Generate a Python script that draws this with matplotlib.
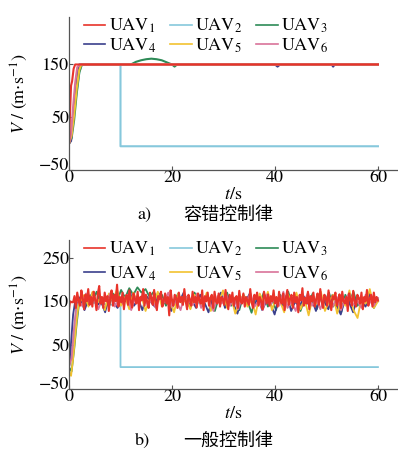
import numpy as np
import matplotlib
matplotlib.use('Agg')
import matplotlib.pyplot as plt
import matplotlib.transforms as mtransforms

plt.rcParams['font.family'] = ['STIXGeneral', 'Noto Sans CJK SC']
plt.rcParams['mathtext.fontset'] = 'stix'

# series labels / colours
labels = ['UAV$_1$', 'UAV$_2$', 'UAV$_3$', 'UAV$_4$', 'UAV$_5$', 'UAV$_6$']
colors = ['#e8332a', '#86c8dc', '#2e8b57', '#3b3f8c', '#f2c230', '#d9739a']

# a) fault tolerant control law
a_t = {
    0: [0, 0.2, 0.4, 0.6, 0.9, 1.2, 60],
    1: [0, 0.5, 1.0, 1.5, 2.0, 2.5, 10, 10, 60],
    2: [0, 0.5, 1.0, 1.5, 2.0, 2.5, 12, 13, 14, 15, 16, 17, 18, 19, 20, 20.5, 21, 60],
    3: [0, 0.4, 0.8, 1.2, 1.6, 2.0, 40, 40.5, 41, 51, 51.3, 51.6, 60],
    4: [0, 0.5, 1.0, 1.5, 2.0, 2.4, 60],
    5: [0, 0.4, 0.8, 1.2, 1.6, 2.2, 60],
}
a_v = {
    0: [0, 60, 110, 118, 142, 150, 150],
    1: [0, 20, 60, 100, 135, 150, 150, -5, -5],
    2: [0, 10, 45, 95, 135, 150, 150, 155, 158, 160, 161, 160, 158, 154, 150, 146, 150, 150],
    3: [0, 5, 45, 100, 135, 150, 150, 146, 150, 150, 146, 150, 150],
    4: [0, 15, 55, 105, 140, 150, 150],
    5: [0, 20, 70, 115, 145, 150, 150],
}

# b) general control law: start-up part
b_t0 = {
    0: [0, 0.2, 0.5],
    1: [0, 0.5, 1.0, 1.5, 2.0, 10, 10, 60],
    2: [0, 0.5, 1.0, 1.5, 2.0],
    3: [0, 0.3, 0.8, 1.2],
    4: [0, 0.4, 0.8, 1.2, 1.6, 2.0],
    5: [0, 0.5, 1.0, 1.5],
}
b_v0 = {
    0: [130, 150, 148],
    1: [0, 30, 90, 140, 150, 140, 0, 0],
    2: [0, -10, 40, 100, 150],
    3: [0, 40, 120, 150],
    4: [-10, -20, 20, 70, 120, 150],
    5: [0, 20, 90, 150],
}

# b) noisy part (read off the figure)
b_noise = {
    0: [148, 162, 135, 170, 152, 140, 175, 158, 132, 165, 150, 178, 142, 160, 138, 172, 155, 130,
        168, 185, 145, 160, 135, 170, 150, 162, 128, 158, 175, 140, 165, 150, 188, 138, 160, 148,
        170, 132, 158, 165, 142, 175, 150, 136, 168, 155, 145, 172, 130, 160, 152, 178, 140, 165,
        148, 135, 170, 158, 142, 176, 150, 130, 162, 155, 172, 138, 150, 168, 145, 160, 118, 175,
        152, 140, 165, 158, 135, 170, 148, 160, 142, 178, 150, 132, 165, 155, 140, 172, 148, 160,
        136, 168, 152, 145, 175, 130, 162, 150, 170, 140, 158, 165, 135, 172, 150, 145, 168, 138,
        160, 155, 142, 176, 150, 132, 165, 148, 170, 140, 158, 162, 135, 174, 150, 145, 168, 138,
        160, 152, 142, 178, 148, 135, 165, 155, 170, 140, 160, 150, 132, 172, 158, 145, 166, 140,
        162, 150, 175, 145, 160, 138, 172, 150, 145, 168, 130, 158, 176, 142, 155, 165, 135, 170,
        148, 160, 125, 165, 152, 180, 140, 158, 145, 172, 132, 162, 150, 170, 138, 155, 168, 142,
        178, 150, 135, 165, 158, 140, 175, 148, 130, 162, 155, 170, 140, 152, 166, 135, 172, 150,
        145, 160, 128, 168, 155, 140, 174, 150, 138, 165, 158, 145, 170, 132, 160, 150, 176, 140,
        155, 165, 138, 170, 148, 160, 152],
    2: [155, 140, 165, 150, 172, 145, 160, 138, 168, 150, 176, 158, 180, 165, 182, 170, 178, 160,
        172, 155, 165, 140, 158, 150, 168, 145, 160, 135, 170, 152, 140, 165, 150, 128, 160, 148,
        170, 140, 158, 130, 165, 150, 124, 160, 145, 170, 138, 155, 130, 165, 150, 172, 140, 160,
        128, 155, 145, 168, 132, 160, 150, 170, 138, 155, 125, 165, 148, 172, 140, 158, 150, 168,
        135, 155],
    3: [145, 160, 130, 155, 170, 140, 150, 125, 165, 148, 135, 160, 150, 172, 140, 155, 130, 162,
        150, 138, 168, 145, 155, 128, 160, 150, 170, 140, 152, 135, 165, 148, 125, 158, 150, 170,
        135, 160, 145, 122, 155, 150, 168, 138, 160, 130, 150, 145, 120, 158, 140, 165, 128, 150,
        135, 162, 145, 155, 128, 160, 150, 132, 165, 140, 120, 155, 148, 125, 160, 150, 138, 165,
        145, 150],
    4: [150, 165, 138, 172, 145, 158, 130, 168, 150, 178, 140, 160, 132, 170, 150, 162, 128, 155,
        145, 172, 138, 160, 150, 125, 168, 145, 158, 132, 165, 150, 140, 170, 128, 155, 148, 175,
        135, 160, 122, 150, 165, 138, 155, 120, 168, 145, 172, 130, 158, 150, 125, 165, 140, 170,
        132, 155, 118, 160, 145, 172, 128, 150, 165, 122, 158, 140, 175, 130, 112, 160, 145, 178,
        135, 150],
    5: [152, 140, 168, 145, 160, 132, 158, 150, 170, 138, 155, 145, 165, 130, 160, 150, 172, 140,
        155, 135, 162, 148, 170, 138, 152, 130, 165, 150, 142, 168, 135, 158, 150, 128, 162, 145,
        170, 140, 155, 132, 160, 150, 168, 138, 152, 130, 165, 145, 158, 140, 172, 135, 150, 128,
        162, 148, 170, 140, 155, 132, 165, 150, 138, 160, 130, 155, 168, 142, 150, 135, 165, 150,
        140, 158],
}
b_noise_start = {0: 0.8, 2: 2.2, 3: 1.4, 4: 2.2, 5: 1.7}

fig = plt.figure(figsize=(3.98, 4.5), dpi=100)
ax_a = fig.add_axes([69 / 398, 1 - 170 / 450, 328 / 398, 153 / 450])
ax_b = fig.add_axes([69 / 398, 1 - 389 / 450, 328 / 398, 149 / 450])

draw_order = [1, 2, 3, 4, 5, 0]
# legend fills column by column -> UAV1..3 on row 1, UAV4..6 on row 2
legend_order = [0, 3, 1, 4, 2, 5]


def style(ax, lines, ylim, yticks, legend_y, spacing):
    ax.set_xlim(0, 63.7)
    ax.set_ylim(*ylim)
    ax.set_xticks([0, 20, 40, 60])
    ax.set_yticks(yticks)
    for s in ['top', 'right']:
        ax.spines[s].set_visible(False)
    for s in ['left', 'bottom']:
        ax.spines[s].set_color('#555555')
        ax.spines[s].set_linewidth(0.9)
    ax.tick_params(direction='in', length=3, width=0.8, labelsize=13, pad=0, color='#555555')
    # lift the bottom y label a little so it clears the x "0"
    lab = ax.yaxis.get_major_ticks()[0].label1
    lab.set_transform(lab.get_transform() +
                      mtransforms.ScaledTranslation(0, 4 / 72, fig.dpi_scale_trans))
    ax.set_xlabel('$t$/s', fontsize=13, labelpad=1)
    ax.set_ylabel('$V$ / (m$\\cdot$s$^{-1}$)', fontsize=13, labelpad=6)
    leg = ax.legend([lines[k] for k in legend_order], [labels[k] for k in legend_order],
                    loc='upper left', bbox_to_anchor=(0.045, legend_y), ncol=3,
                    frameon=False, fontsize=13, handlelength=1.2, handletextpad=0.2,
                    columnspacing=0.75, labelspacing=spacing, borderaxespad=0, borderpad=0)
    for lh in leg.get_lines():
        lh.set_linewidth(1.2)


# panel a
lines_a = {}
for i in draw_order:
    lines_a[i], = ax_a.plot(a_t[i], a_v[i], color=colors[i], lw=1.5)
style(ax_a, lines_a, (-50, 240), [-50, 50, 150], 1.0, 0.05)

# panel b
lines_b = {}
for i in draw_order:
    t = list(b_t0[i])
    v = list(b_v0[i])
    if i in b_noise:
        vals = b_noise[i]
        t += list(np.linspace(b_noise_start[i], 60, len(vals)))
        v += vals
    lines_b[i], = ax_b.plot(t, v, color=colors[i], lw=1.5 if i == 0 else 1.3)
style(ax_b, lines_b, (-50, 290), [-50, 50, 150, 250], 1.0, 0.35)

cjk = ['Noto Sans CJK SC', 'DejaVu Sans']
fig.text(144 / 398, 1 - 215 / 450, 'a)', ha='center', va='center', fontsize=13)
fig.text(228 / 398, 1 - 215 / 450, '容错控制律', ha='center', va='center', fontsize=13, family=cjk)
fig.text(143 / 398, 1 - 441 / 450, 'b)', ha='center', va='center', fontsize=13)
fig.text(228 / 398, 1 - 441 / 450, '一般控制律', ha='center', va='center', fontsize=13, family=cjk)

fig.savefig('out.png', dpi=100)
